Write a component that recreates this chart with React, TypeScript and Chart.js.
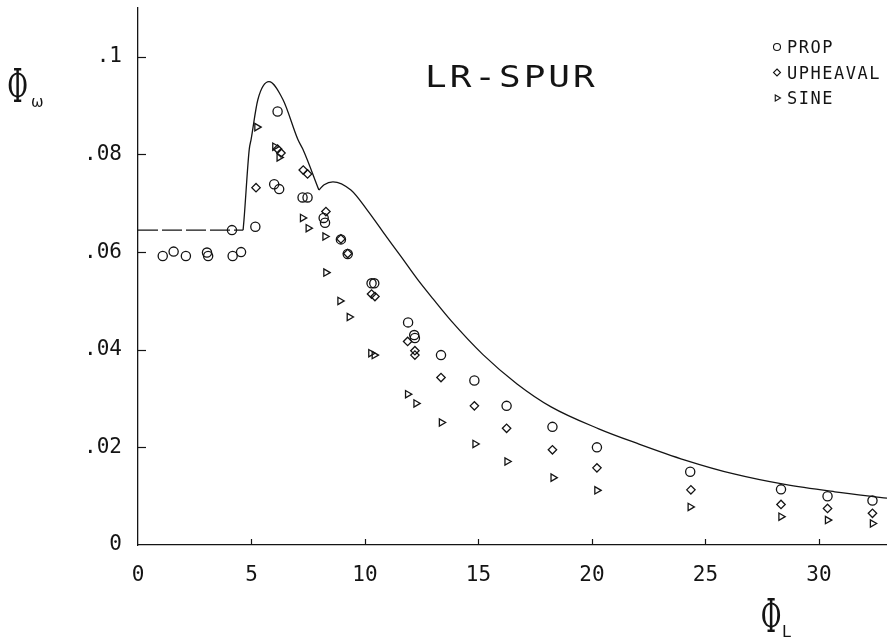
import React, { useEffect, useRef } from 'react';
import { Chart, registerables } from 'chart.js';

Chart.register(...registerables);

// ---------- data ----------
const propX = [1.09, 1.57, 2.11, 3.04, 3.09, 4.17, 4.54, 4.14, 5.17, 6.0, 6.22, 6.15, 7.25, 7.47, 8.18, 8.24, 8.94, 9.24, 10.29, 10.41, 11.9, 12.17, 12.2, 13.35, 14.82, 16.24, 18.26, 20.22, 24.33, 28.33, 30.38, 32.36];
const propY = [0.0592, 0.0601, 0.0592, 0.0599, 0.0592, 0.0592, 0.06, 0.0645, 0.0652, 0.0739, 0.0729, 0.0888, 0.0712, 0.0712, 0.067, 0.066, 0.0626, 0.0596, 0.0536, 0.0536, 0.0456, 0.043, 0.0424, 0.0389, 0.0337, 0.0285, 0.0242, 0.02, 0.015, 0.0114, 0.01, 0.0091];

const upheavalX = [5.2, 6.15, 6.3, 7.28, 7.47, 8.28, 8.94, 9.24, 10.29, 10.44, 11.88, 12.2, 12.2, 13.35, 14.82, 16.24, 18.26, 20.22, 24.36, 28.33, 30.38, 32.36];
const upheavalY = [0.0732, 0.0811, 0.0803, 0.0768, 0.076, 0.0683, 0.0627, 0.0597, 0.0514, 0.0509, 0.0417, 0.0398, 0.0389, 0.0343, 0.0285, 0.0239, 0.0195, 0.0158, 0.0113, 0.0083, 0.0075, 0.0065];

const sineX = [5.24, 6.03, 6.22, 7.25, 7.5, 8.24, 8.28, 8.9, 9.31, 10.26, 10.41, 11.88, 12.25, 13.37, 14.85, 16.26, 18.29, 20.22, 24.33, 28.33, 30.38, 32.36];
const sineY = [0.0856, 0.0816, 0.0794, 0.067, 0.0649, 0.0632, 0.0558, 0.05, 0.0467, 0.0393, 0.0389, 0.0309, 0.029, 0.0251, 0.0207, 0.0171, 0.0138, 0.0112, 0.0078, 0.0058, 0.0051, 0.0044];

// theory curve (dashed plateau, peak branch, decay branch)
const plateauX = [0, 4.63];
const plateauY = [0.0645, 0.0645];
const peakX = [4.63, 4.67, 4.9, 4.98, 5.28, 5.77, 6.39, 7.05, 7.27, 7.97];
const peakY = [0.0645, 0.0666, 0.081, 0.083, 0.0912, 0.0949, 0.0912, 0.083, 0.081, 0.0727];
const decayX = [7.97, 8.2, 8.59, 9.38, 10.1, 10.8, 11.6, 12.3, 13.0, 13.8, 15.2, 16.7, 18.2, 20.3, 22.0, 24.1, 26.3, 28.5, 30.7, 33.0];
const decayY = [0.0727, 0.0738, 0.0744, 0.0727, 0.0686, 0.0641, 0.059, 0.0545, 0.0504, 0.0459, 0.039, 0.033, 0.0283, 0.0238, 0.0208, 0.0174, 0.0145, 0.0124, 0.0109, 0.0096];

const xTickValues = [0, 5, 10, 15, 20, 25, 30];
const xTickLabels = ['0', '5', '10', '15', '20', '25', '30'];
const yTickValues = [0, 0.02, 0.04, 0.06, 0.08, 0.1];
const yTickLabels = ['0', '.02', '.04', '.06', '.08', '.1'];

const chartTitle = 'LR-SPUR';
const legendLabels = ['PROP', 'UPHEAVAL', 'SINE'];
const axisSymbol = 'Φ';
const yAxisSub = 'ω';
const xAxisSub = 'L';

const INK = '#141414';
const MONO = '"DejaVu Sans Mono", monospace';

const zip = (xs: number[], ys: number[]) => xs.map((x, i) => ({ x, y: ys[i] }));

function drawMarker(ctx: CanvasRenderingContext2D, kind: string, x: number, y: number, r: number) {
  ctx.beginPath();
  if (kind === 'circle') {
    ctx.arc(x, y, r, 0, Math.PI * 2);
  } else if (kind === 'diamond') {
    ctx.moveTo(x, y - r);
    ctx.lineTo(x + r, y);
    ctx.lineTo(x, y + r);
    ctx.lineTo(x - r, y);
    ctx.closePath();
  } else {
    ctx.moveTo(x + r, y);
    ctx.lineTo(x - r / 2, y - r * 0.866);
    ctx.lineTo(x - r / 2, y + r * 0.866);
    ctx.closePath();
  }
  ctx.stroke();
}

const decorPlugin = {
  id: 'decor',
  afterDraw(chart: any) {
    const { ctx, chartArea, scales } = chart;
    const xs = scales.x;
    const ys = scales.y;
    ctx.save();
    ctx.strokeStyle = INK;
    ctx.fillStyle = INK;
    ctx.lineWidth = 1.2;
    // inward tick marks
    ys.ticks.forEach((t: any) => {
      if (t.value === 0) return;
      const py = Math.round(ys.getPixelForValue(t.value)) + 0.5;
      ctx.beginPath();
      ctx.moveTo(chartArea.left, py);
      ctx.lineTo(chartArea.left + 8, py);
      ctx.stroke();
    });
    xs.ticks.forEach((t: any) => {
      if (t.value === 0) return;
      const px = Math.round(xs.getPixelForValue(t.value)) + 0.5;
      ctx.beginPath();
      ctx.moveTo(px, chartArea.bottom);
      ctx.lineTo(px, chartArea.bottom - 6);
      ctx.stroke();
    });

    // title inside the plot
    ctx.textAlign = 'left';
    ctx.textBaseline = 'alphabetic';
    ctx.save();
    ctx.translate(chartArea.left + 287, 87);
    ctx.scale(1.2, 1);
    ctx.font = `30px ${MONO}`;
    (ctx as any).letterSpacing = '2.5px';
    ctx.fillText(chartTitle, 0, 0);
    ctx.restore();

    // legend
    ctx.font = `17px ${MONO}`;
    (ctx as any).letterSpacing = '1.5px';
    const kinds = ['circle', 'diamond', 'triangle'];
    const lx = 777;
    legendLabels.forEach((lab, i) => {
      const by = 53 + i * 25.5;
      ctx.lineWidth = 1.1;
      drawMarker(ctx, kinds[i], lx, by - 6, 3.5);
      ctx.fillText(lab, lx + 10, by);
    });
    (ctx as any).letterSpacing = '0px';

    // axis symbols
    const drawPhi = (cx: number, base: number) => {
      ctx.save();
      ctx.translate(cx, base);
      ctx.scale(0.55, 1);
      ctx.font = '46px "DejaVu Serif", serif';
      ctx.textAlign = 'center';
      ctx.fillText(axisSymbol, 0, 0);
      ctx.restore();
    };
    drawPhi(17.5, 102);
    ctx.font = '15px "DejaVu Sans", sans-serif';
    ctx.textAlign = 'left';
    ctx.fillText(yAxisSub, 31, 107);

    drawPhi(771, 632);
    ctx.font = '16px "DejaVu Sans", sans-serif';
    ctx.fillText(xAxisSub, 782, 637);
    ctx.restore();
  },
};

export default function App() {
  const ref = useRef<HTMLCanvasElement | null>(null);
  useEffect(() => {
    document.body.style.margin = '0';
    if (!ref.current) return;
    const lineBase = {
      showLine: true,
      borderColor: INK,
      borderWidth: 1.3,
      pointRadius: 0,
      pointHoverRadius: 0,
      fill: false,
      cubicInterpolationMode: 'monotone' as const,
    };
    const markerBase = {
      showLine: false,
      borderColor: INK,
      backgroundColor: 'rgba(0,0,0,0)',
      borderWidth: 1.3,
    };
    const chart = new Chart(ref.current, {
      type: 'scatter',
      data: {
        datasets: [
          { ...lineBase, label: 'plateau', data: zip(plateauX, plateauY), borderDash: [20, 4], borderWidth: 1.1 },
          { ...lineBase, label: 'peak', data: zip(peakX, peakY) },
          { ...lineBase, label: 'decay', data: zip(decayX, decayY) },
          { ...markerBase, label: legendLabels[0], data: zip(propX, propY), pointStyle: 'circle', pointRadius: 4.6 },
          { ...markerBase, label: legendLabels[1], data: zip(upheavalX, upheavalY), pointStyle: 'rectRot', pointRadius: 4.2 },
          { ...markerBase, label: legendLabels[2], data: zip(sineX, sineY), pointStyle: 'triangle', pointRotation: 90, pointRadius: 4.2 },
        ] as any,
      },
      options: {
        animation: false,
        responsive: false,
        events: [],
        layout: { autoPadding: false, padding: { top: 8, right: 0, left: 0, bottom: 0 } },
        plugins: { legend: { display: false }, tooltip: { enabled: false }, title: { display: false } },
        scales: {
          x: {
            type: 'linear',
            min: 0,
            max: 33,
            grid: { display: false, drawTicks: false },
            border: { display: true, color: INK, width: 1.3 },
            afterFit: (s: any) => { s.height = 92; s.paddingLeft = 0; s.paddingRight = 0; },
            afterBuildTicks: (s: any) => { s.ticks = xTickValues.map((v) => ({ value: v })); },
            ticks: {
              color: INK,
              padding: 18,
              maxRotation: 0,
              autoSkip: false,
              font: { family: MONO, size: 21 },
              callback: (_v: any, i: number) => xTickLabels[i],
            },
          },
          y: {
            type: 'linear',
            min: 0,
            max: 0.11,
            grid: { display: false, drawTicks: false },
            border: { display: true, color: INK, width: 1.3 },
            afterFit: (s: any) => { s.width = 138; s.paddingTop = 0; s.paddingBottom = 0; },
            afterBuildTicks: (s: any) => { s.ticks = yTickValues.map((v) => ({ value: v })); },
            ticks: {
              color: INK,
              padding: 16,
              autoSkip: false,
              font: { family: MONO, size: 21 },
              callback: (_v: any, i: number) => yTickLabels[i],
            },
          },
        },
      } as any,
      plugins: [decorPlugin],
    });
    return () => chart.destroy();
  }, []);
  return (
    <div style={{ width: 887, height: 637 }}>
      <canvas ref={ref} width={887} height={637} style={{ display: 'block', width: 887, height: 637 }} />
    </div>
  );
}
